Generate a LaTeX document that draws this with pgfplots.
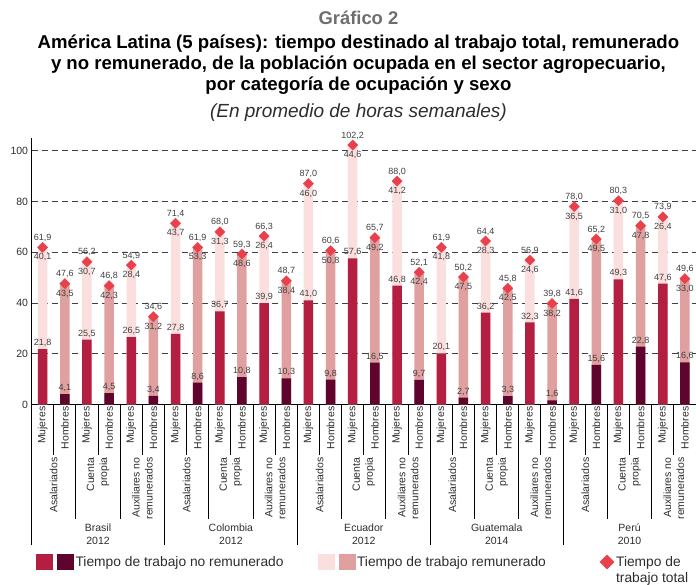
\documentclass[border=0pt]{standalone}
\usepackage{pgfplots}
\pgfplotsset{compat=1.18}
\usepackage{pgfplotstable}
\usepackage{fontspec}
\setmainfont{Liberation Sans}

\definecolor{cR}{RGB}{180,30,65}
\definecolor{cM}{RGB}{95,5,45}
\definecolor{cL}{RGB}{251,222,222}
\definecolor{cP}{RGB}{224,160,160}
\definecolor{cD}{RGB}{232,65,75}
\definecolor{tc}{RGB}{45,45,45}
\definecolor{lc}{RGB}{64,64,64}
\definecolor{tg}{RGB}{110,110,110}

\newcommand{\lab}{\fontsize{9}{10}\selectfont}
\newcommand{\xl}{\fontsize{10.5}{13}\selectfont}
\newcommand{\fmt}{\pgfmathprintnumber[fixed,fixed zerofill,precision=1,use comma]{\pgfplotspointmeta}}

% x b(no remunerado) t(remunerado) tot(total)
\pgfplotstableread{
x b t tot
0 21.8 40.1 61.9
2 25.5 30.7 56.2
4 26.5 28.4 54.9
6 27.8 43.7 71.4
8 36.7 31.3 68.0
10 39.9 26.4 66.3
12 41.0 46.0 87.0
14 57.6 44.6 102.2
16 46.8 41.2 88.0
18 20.1 41.8 61.9
20 36.2 28.3 64.4
22 32.3 24.6 56.9
24 41.6 36.5 78.0
26 49.3 31.0 80.3
28 47.6 26.4 73.9
}\women

\pgfplotstableread{
x b t tot
1 4.1 43.5 47.6
3 4.5 42.3 46.8
5 3.4 31.2 34.6
7 8.6 53.3 61.9
9 10.8 48.6 59.3
11 10.3 38.4 48.7
13 9.8 50.8 60.6
15 16.5 49.2 65.7
17 9.7 42.4 52.1
19 2.7 47.5 50.2
21 3.3 42.5 45.8
23 1.6 38.2 39.8
25 15.6 49.5 65.2
27 22.8 47.8 70.5
29 16.6 33.0 49.6
}\men

\begin{document}
\begin{tikzpicture}
\begin{axis}[name=ax, scale only axis, width=664.5pt, height=266.5pt,
  xmin=-0.5, xmax=29.5, ymin=0, ymax=105, clip=false,
  axis x line*=bottom, axis y line*=left,
  axis line style={line width=1.2pt, black},
  ytick={0,20,...,100}, ymajorgrids,
  major grid style={black!75, line width=0.7pt, dash pattern=on 6pt off 4pt},
  major tick length=0pt,
  xtick={0,...,29},
  xticklabels={Mujeres,Hombres,Mujeres,Hombres,Mujeres,Hombres,Mujeres,Hombres,Mujeres,Hombres,Mujeres,Hombres,Mujeres,Hombres,Mujeres,Hombres,Mujeres,Hombres,Mujeres,Hombres,Mujeres,Hombres,Mujeres,Hombres,Mujeres,Hombres,Mujeres,Hombres,Mujeres,Hombres},
  xticklabel style={rotate=90, anchor=east, font=\xl, text=tc, inner sep=2pt},
  yticklabel style={font=\xl, text=tc},
  /pgf/number format/assume math mode=true,
  legend style={at={(0.002,-0.591)}, anchor=west, draw=none, fill=none,
    legend columns=3, font=\fontsize{13.8}{16}\selectfont, text=tc,
    /tikz/every even column/.append style={column sep=32pt}},
  legend cell align=left,
]
\addlegendimage{legend image code/.code={\fill[cR] (0pt,-7.5pt) rectangle (16pt,7.5pt); \fill[cM] (21pt,-7.5pt) rectangle (37pt,7.5pt);}}
\addlegendentry{Tiempo de trabajo no remunerado}
\addlegendimage{legend image code/.code={\fill[cL] (0pt,-7.5pt) rectangle (16pt,7.5pt); \fill[cP] (21pt,-7.5pt) rectangle (37pt,7.5pt);}}
\addlegendentry{Tiempo de trabajo remunerado\rule{20pt}{0pt}}
\addlegendimage{only marks, mark=square*, mark size=5pt, mark options={rotate=45, fill=cD, draw=cD}}
\addlegendentry{\smash{\raisebox{-5pt}{\begin{tabular}[t]{@{}l@{}}Tiempo de\\trabajo total\end{tabular}}}}

% women
\addplot[forget plot, ybar, bar width=9.5pt, bar shift=0pt, fill=cL, draw=none,
  point meta=explicit, nodes near coords=\fmt,
  every node near coord/.append style={anchor=center, yshift=-10pt, font=\lab, text=lc}]
  table[x=x, y=tot, meta=t] {\women};
\addplot[forget plot, ybar, bar width=9.5pt, bar shift=0pt, fill=cR, draw=none,
  point meta=explicit, nodes near coords=\fmt,
  every node near coord/.append style={anchor=center, yshift=6pt, font=\lab, text=lc}]
  table[x=x, y=b, meta=b] {\women};
% men
\addplot[forget plot, ybar, bar width=9.5pt, bar shift=0pt, fill=cP, draw=none,
  point meta=explicit, nodes near coords=\fmt,
  every node near coord/.append style={anchor=center, yshift=-10pt, font=\lab, text=lc}]
  table[x=x, y=tot, meta=t] {\men};
\addplot[forget plot, ybar, bar width=9.5pt, bar shift=0pt, fill=cM, draw=none,
  point meta=explicit, nodes near coords=\fmt,
  every node near coord/.append style={anchor=center, yshift=6pt, font=\lab, text=lc}]
  table[x=x, y=b, meta=b] {\men};
% totals
\addplot[forget plot, only marks, mark=square*, mark size=3.6pt, mark options={rotate=45, fill=cD, draw=cD},
  point meta=explicit, nodes near coords=\fmt,
  every node near coord/.append style={anchor=center, yshift=9.5pt, font=\lab, text=lc}]
  table[x=x, y=tot, meta=tot] {\women};
\addplot[forget plot, only marks, mark=square*, mark size=3.6pt, mark options={rotate=45, fill=cD, draw=cD},
  point meta=explicit, nodes near coords=\fmt,
  every node near coord/.append style={anchor=center, yshift=9.5pt, font=\lab, text=lc}]
  table[x=x, y=tot, meta=tot] {\men};

% separators
\pgfplotsinvokeforeach{0.5,2.5,4.5,6.5,8.5,10.5,12.5,14.5,16.5,18.5,20.5,22.5,24.5,26.5,28.5}{
  \draw[black, line width=1pt] (axis cs:#1,0) -- ++(0pt,-50.5pt);
}
\pgfplotsinvokeforeach{1.5,3.5,7.5,9.5,13.5,15.5,19.5,21.5,25.5,27.5}{
  \draw[black, line width=1pt] (axis cs:#1,0) -- ++(0pt,-114.5pt);
}
\pgfplotsinvokeforeach{-0.5,5.5,11.5,17.5,23.5,29.5}{
  \draw[black, line width=1pt] (axis cs:#1,0) -- ++(0pt,-141pt);
}
% category labels
\pgfplotsinvokeforeach{0.5,6.5,12.5,18.5,24.5}{
  \node[rotate=90, anchor=east, align=right, font=\xl, text=tc, inner sep=0pt] at ([yshift=-53pt]axis cs:#1,0) {Asalariados};
}
\pgfplotsinvokeforeach{2.5,8.5,14.5,20.5,26.5}{
  \node[rotate=90, anchor=east, align=right, font=\xl, text=tc, inner sep=0pt] at ([yshift=-53pt]axis cs:#1,0) {Cuenta\\propia};
}
\pgfplotsinvokeforeach{4.5,10.5,16.5,22.5,28.5}{
  \node[rotate=90, anchor=east, align=right, font=\xl, text=tc, inner sep=0pt] at ([yshift=-53pt]axis cs:#1,0) {Auxiliares no\\remunerados};
}
% countries
\node[align=center, font=\xl, text=tc] at ([yshift=-130pt]axis cs:2.5,0) {Brasil\\2012};
\node[align=center, font=\xl, text=tc] at ([yshift=-130pt]axis cs:8.5,0) {Colombia\\2012};
\node[align=center, font=\xl, text=tc] at ([yshift=-130pt]axis cs:14.5,0) {Ecuador\\2012};
\node[align=center, font=\xl, text=tc] at ([yshift=-130pt]axis cs:20.5,0) {Guatemala\\2014};
\node[align=center, font=\xl, text=tc] at ([yshift=-130pt]axis cs:26.5,0) {Perú\\2010};
\end{axis}

\node[anchor=base, inner sep=0pt, font=\bfseries\fontsize{18.4}{20}\selectfont, text=tg] at ([xshift=326.9pt,yshift=379.5pt]ax.south west) {Gráfico 2};
\node[anchor=base, inner sep=0pt, font=\bfseries\fontsize{18.6}{20}\selectfont, text=black] at ([xshift=326.9pt,yshift=356.3pt]ax.south west) {América Latina (5 países): tiempo destinado al trabajo total, remunerado};
\node[anchor=base, inner sep=0pt, font=\bfseries\fontsize{18.6}{20}\selectfont, text=black] at ([xshift=326.9pt,yshift=335pt]ax.south west) {y no remunerado, de la población ocupada en el sector agropecuario,};
\node[anchor=base, inner sep=0pt, font=\bfseries\fontsize{18.6}{20}\selectfont, text=black] at ([xshift=326.9pt,yshift=313.5pt]ax.south west) {por categoría de ocupación y sexo};
\node[anchor=base, inner sep=0pt, font=\itshape\fontsize{19}{21}\selectfont, text=tc] at ([xshift=326.9pt,yshift=286.5pt]ax.south west) {(En promedio de horas semanales)};

\pgfresetboundingbox
\path ([xshift=-31.6pt,yshift=-180.5pt]ax.south west) rectangle ([yshift=138pt]ax.north east);
\end{tikzpicture}
\end{document}
